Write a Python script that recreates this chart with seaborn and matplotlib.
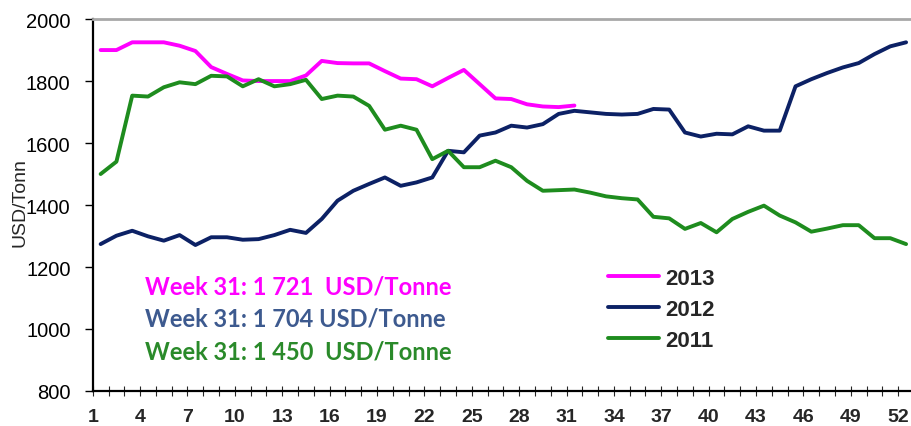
import numpy as np
import pandas as pd
import matplotlib
matplotlib.use("Agg")
import matplotlib.pyplot as plt
import seaborn as sns

# weekly prices, USD/Tonne
weeks_2013 = list(range(1, 32))
price_2013 = [1900, 1900, 1925, 1925, 1925, 1914, 1897, 1845, 1823, 1802,
              1800, 1800, 1800, 1818, 1865, 1858, 1857, 1857, 1832, 1808,
              1806, 1783, 1810, 1836, 1790, 1744, 1742, 1725, 1718, 1716, 1721]

weeks_full = list(range(1, 53))
price_2012 = [1274, 1301, 1317, 1299, 1285, 1303, 1271, 1296, 1296, 1288,
              1290, 1303, 1320, 1310, 1355, 1414, 1446, 1468, 1489, 1462,
              1473, 1489, 1575, 1570, 1624, 1634, 1656, 1650, 1661, 1694,
              1704, 1699, 1694, 1692, 1694, 1710, 1708, 1634, 1621, 1630,
              1628, 1654, 1640, 1640, 1783, 1806, 1826, 1844, 1858, 1887,
              1912, 1925]
price_2011 = [1500, 1540, 1753, 1750, 1780, 1796, 1790, 1817, 1815, 1783,
              1806, 1783, 1790, 1804, 1742, 1753, 1750, 1720, 1643, 1656,
              1643, 1548, 1575, 1522, 1522, 1543, 1522, 1478, 1446, 1448,
              1450, 1440, 1428, 1422, 1418, 1362, 1357, 1323, 1342, 1312,
              1355, 1378, 1398, 1366, 1344, 1314, 1324, 1335, 1335, 1293,
              1293, 1274]

years = ["2013", "2012", "2011"]
colors = {"2013": "#FF00FF", "2012": "#0C2165", "2011": "#1E8C1E"}
notes = ["Week 31: 1 721  USD/Tonne", "Week 31: 1 704 USD/Tonne",
         "Week 31: 1 450  USD/Tonne"]
note_colors = ["#FF00FF", "#3D5A8F", "#2A8A2A"]
tick_weeks = list(range(1, 53, 3))

df = pd.concat([
    pd.DataFrame({"week": weeks_2013, "price": price_2013, "year": "2013"}),
    pd.DataFrame({"week": weeks_full, "price": price_2012, "year": "2012"}),
    pd.DataFrame({"week": weeks_full, "price": price_2011, "year": "2011"}),
])

sns.set_style("white")
plt.rcParams["font.family"] = ["Liberation Sans", "DejaVu Sans"]

fig = plt.figure(figsize=(9.11, 4.27), dpi=100)
ax = fig.add_axes([0.1018, 0.082, 0.898, 0.871])

sns.lineplot(data=df, x="week", y="price", hue="year", hue_order=years,
             palette=colors, lw=2.8, ax=ax, sort=False)

ax.set_xlim(0.5, 52.3)
ax.set_ylim(800, 2000)
ax.set_yticks(range(800, 2001, 200))
ax.set_xticks([w - 0.5 for w in tick_weeks])
ax.set_xticklabels(tick_weeks, fontweight="bold", fontsize=14)
ax.set_xticks(np.arange(0.5, 52.5, 1), minor=True)
ax.tick_params(axis="y", labelsize=14.5, length=6, width=1, left=True,
               direction="out", colors="black", pad=10)
ax.tick_params(axis="x", which="both", bottom=True, direction="inout",
               length=7, width=0.8, pad=9)
ax.set_xlabel("")
ax.set_ylabel("")
fig.text(0.022, 0.525, "USD/Tonn", rotation=90, ha="center", va="center",
         fontsize=14)

for side in ["left", "bottom"]:
    ax.spines[side].set_color("black")
    ax.spines[side].set_linewidth(1.6)
ax.spines["right"].set_visible(False)
ax.spines["top"].set_color("#A8A8A8")
ax.spines["top"].set_linewidth(2)

for i, (txt, c) in enumerate(zip(notes, note_colors)):
    ax.text(3.8, 1139 - i * 105, txt, color=c, fontsize=17,
            fontweight="bold", family=["Lato", "DejaVu Sans"],
            ha="left", va="center")

handles, labels = ax.get_legend_handles_labels()
ax.legend(handles, labels, loc="upper left", bbox_to_anchor=(0.605, 0.385),
          frameon=False, handlelength=2.3, handletextpad=0.3,
          labelspacing=0.45, prop={"weight": "bold", "size": 16})

fig.savefig("out.png", dpi=100)
